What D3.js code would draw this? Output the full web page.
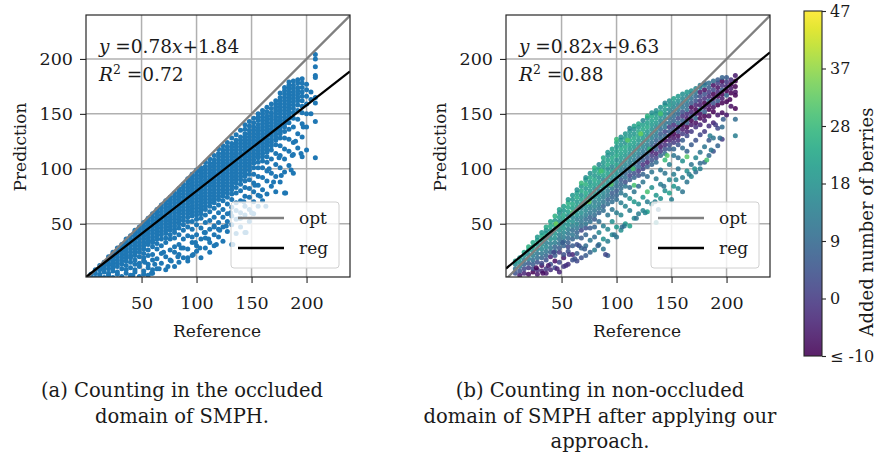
<!DOCTYPE html>
<html>
<head>
<meta charset="utf-8">
<script src="https://cdn.jsdelivr.net/npm/d3@7/dist/d3.min.js"></script>
<style>
  body { margin: 0; background: #fff; }
  text { font-family: "DejaVu Serif", serif; fill: #1a1a1a; }
</style>
</head>
<body>
<svg id="fig" width="878" height="453"></svg>
<script>
// ---- data ----
const axisTicks = [50, 100, 150, 200];

// panel (a): columns [reference, predictions...]
const leftCols = [
  [4, 2, 4],
  [8, 1, 5, 8],
  [12, 2, 4, 8, 10, 12],
  [16, 1, 6, 9, 12, 15],
  [20, 3, 5, 9, 12, 14, 17, 20],
  [24, 1, 7, 10, 13, 16, 19, 22, 24],
  [28, 4, 6, 11, 14, 17, 20, 23, 26, 28],
  [32, 2, 9, 13, 16, 19, 22, 25, 28, 31],
  [36, 5, 8, 12, 16, 19, 22, 25, 28, 31, 34, 36],
  [40, 1, 3, 10, 15, 19, 21, 24, 27, 30, 33, 36, 39],
  [44, 6, 8, 13, 17, 21, 24, 27, 30, 33, 36, 39, 42, 44],
  [48, 2, 11, 14, 20, 24, 27, 30, 33, 36, 39, 42, 45, 47],
  [52, 7, 4, 16, 19, 23, 27, 30, 33, 36, 39, 42, 45, 48, 51],
  [56, 3, 13, 10, 21, 26, 31, 34, 37, 40, 43, 46, 49, 52, 55],
  [60, 5, 8, 17, 22, 29, 33, 35, 38, 41, 44, 47, 50, 53, 56, 59],
  [64, 9, 18, 27, 32, 36, 39, 42, 45, 48, 51, 54, 57, 60, 63],
  [68, 14, 23, 30, 36, 40, 43, 46, 49, 52, 55, 58, 61, 64, 67],
  [72, 8, 20, 33, 37, 41, 44, 47, 50, 53, 56, 59, 62, 65, 68, 71],
  [76, 17, 26, 36, 40, 44, 47, 50, 53, 56, 59, 62, 65, 68, 71, 74],
  [80, 11, 29, 24, 37, 42, 45, 48, 51, 54, 57, 60, 63, 66, 69, 72, 75, 78],
  [84, 22, 31, 15, 40, 46, 50, 53, 56, 59, 62, 65, 68, 71, 74, 77, 80, 82],
  [88, 19, 36, 28, 44, 49, 53, 56, 59, 62, 65, 68, 71, 74, 77, 80, 83, 86],
  [92, 27, 16, 39, 47, 52, 56, 59, 62, 65, 68, 71, 74, 77, 80, 83, 86, 89, 91],
  [96, 33, 21, 45, 38, 52, 57, 60, 63, 66, 69, 72, 75, 78, 81, 84, 87, 90, 93, 95],
  [100, 25, 40, 30, 49, 54, 58, 61, 64, 67, 70, 73, 76, 79, 82, 85, 88, 91, 94, 97, 99],
  [104, 36, 19, 46, 55, 59, 62, 65, 68, 71, 74, 77, 80, 83, 86, 89, 92, 95, 98, 101],
  [108, 28, 42, 51, 37, 58, 63, 66, 69, 72, 75, 78, 81, 84, 87, 90, 93, 96, 99, 102, 106],
  [112, 45, 33, 53, 24, 61, 66, 69, 72, 75, 78, 81, 84, 87, 90, 93, 96, 99, 102, 105, 109],
  [116, 40, 56, 30, 48, 64, 69, 72, 75, 78, 81, 84, 87, 90, 93, 96, 99, 102, 105, 108, 112],
  [120, 51, 38, 60, 45, 67, 72, 75, 78, 81, 84, 87, 90, 93, 96, 99, 102, 105, 108, 111, 114, 118],
  [124, 34, 56, 47, 63, 71, 75, 78, 81, 84, 87, 90, 93, 96, 99, 102, 105, 108, 111, 114, 117, 121],
  [128, 43, 59, 52, 68, 74, 78, 81, 84, 87, 90, 93, 96, 99, 102, 105, 108, 111, 114, 117, 120, 124],
  [132, 31, 49, 65, 57, 72, 77, 81, 84, 87, 90, 93, 96, 99, 102, 105, 108, 111, 114, 117, 120, 123, 128],
  [136, 54, 41, 69, 62, 78, 83, 87, 90, 93, 96, 99, 102, 105, 108, 111, 114, 117, 120, 123, 126, 131],
  [140, 47, 60, 71, 55, 80, 86, 90, 93, 96, 99, 102, 105, 108, 111, 114, 117, 120, 123, 126, 129, 135],
  [144, 42, 66, 58, 75, 83, 89, 93, 96, 99, 102, 105, 108, 111, 114, 117, 120, 123, 126, 129, 132, 136, 140],
  [148, 63, 74, 52, 82, 90, 95, 99, 102, 105, 108, 111, 114, 117, 120, 123, 126, 129, 132, 135, 139, 143],
  [152, 70, 59, 87, 79, 95, 101, 105, 108, 111, 114, 117, 120, 123, 126, 129, 132, 135, 138, 142, 146],
  [156, 66, 85, 76, 93, 101, 106, 110, 113, 116, 119, 122, 125, 128, 131, 134, 137, 140, 144, 147, 150],
  [160, 81, 71, 92, 101, 107, 111, 114, 117, 120, 123, 126, 129, 132, 135, 138, 141, 144, 147, 150, 153],
  [164, 89, 77, 98, 106, 111, 115, 118, 121, 124, 127, 130, 133, 136, 139, 142, 145, 148, 152, 156],
  [168, 84, 96, 109, 117, 121, 124, 127, 130, 133, 136, 139, 142, 145, 148, 151, 155, 159],
  [172, 79, 93, 104, 114, 122, 126, 129, 132, 135, 138, 141, 144, 147, 150, 153, 156, 159, 162],
  [176, 88, 101, 112, 121, 128, 132, 135, 138, 141, 144, 147, 150, 153, 156, 159, 162, 165, 169],
  [180, 78, 97, 118, 109, 128, 134, 138, 141, 144, 147, 150, 153, 156, 159, 162, 165, 168, 171, 174],
  [184, 103, 116, 127, 136, 142, 146, 149, 152, 155, 158, 161, 164, 167, 170, 173, 176, 179],
  [188, 96, 113, 124, 138, 146, 151, 155, 158, 161, 164, 167, 170, 173, 176, 180],
  [192, 119, 132, 145, 153, 158, 162, 165, 168, 171, 174, 178, 181],
  [196, 111, 129, 141, 151, 157, 162, 166, 170, 174, 178, 182],
  [200, 117, 138, 150, 159, 166, 172, 177],
  [204, 150, 163, 170],
  [208, 110, 143, 160, 165, 183, 185, 193, 200, 204]
];
// panel (a): isolated points [reference, prediction]
const leftExtra = [
  [59, 5], [92, 19], [86, 28], [103, 28], [118, 31], [133, 31], [121, 44], [145, 42],
  [181, 78], [177, 94], [186, 99], [195, 114], [163, 66], [170, 88], [158, 75], [139, 55],
  [127, 48], [111, 36], [97, 22], [74, 11], [66, 9], [42, 3], [53, 15], [150, 60],
  [166, 100], [190, 125], [197, 138], [187, 112], [175, 110], [153, 85], [143, 70],
  [131, 60], [116, 47], [107, 42], [99, 33], [83, 20], [77, 16], [70, 24], [62, 13]
];

// panel (b): columns [reference, predictions, added berries]
const rightCols = [
  [8, [5, 9, 13, 16], [4, 10, 16, 22]],
  [12, [3, 7, 11, 15, 19], [-6, 4, 12, 18, 20]],
  [16, [5, 9, 13, 17, 21, 24], [-4, 2, 8, 14, 18, 24]],
  [20, [4, 10, 14, 18, 22, 26, 29], [-8, 0, 6, 14, 16, 20, 26]],
  [24, [6, 9, 13, 17, 21, 25, 29, 33], [-10, 2, 6, 10, 14, 18, 22, 24]],
  [28, [4, 8, 15, 19, 23, 27, 31, 35, 38], [-6, -2, 4, 10, 12, 16, 20, 22, 20]],
  [32, [7, 12, 14, 19, 23, 27, 31, 35, 39, 42], [-4, -8, 2, 8, 12, 16, 18, 22, 24, 20]],
  [36, [9, 5, 17, 21, 25, 29, 33, 37, 41, 44, 47], [0, -6, 4, 8, 12, 16, 14, 18, 22, 18, 24]],
  [40, [8, 13, 20, 24, 28, 32, 36, 40, 44, 48, 52], [-2, 4, -4, 8, 12, 14, 18, 16, 20, 24, 22]],
  [44, [10, 16, 21, 25, 29, 33, 37, 41, 45, 49, 53, 57], [2, -8, 6, 10, 8, 14, 18, 20, 16, 22, 20, 26]],
  [48, [6, 15, 24, 28, 32, 36, 40, 44, 48, 52, 56, 60, 63], [-4, 2, 0, 6, 10, 12, 14, 18, 20, 16, 22, 18, 22]],
  [52, [11, 19, 22, 30, 34, 38, 42, 46, 50, 54, 58, 62, 66], [0, -6, 4, 8, 10, 14, 16, 20, 18, 22, 24, 20, 22]],
  [56, [13, 25, 29, 33, 37, 41, 45, 49, 53, 57, 61, 65, 69, 72], [-2, 4, 2, 6, 10, 12, 14, 18, 20, 16, 22, 24, 26, 20]],
  [60, [17, 22, 30, 36, 40, 44, 48, 52, 56, 60, 64, 68, 72, 76], [4, -4, 6, 8, 12, 10, 14, 18, 16, 20, 22, 24, 20, 20]],
  [64, [23, 16, 31, 38, 42, 46, 50, 54, 58, 62, 66, 70, 74, 78, 81], [6, 2, 4, 10, 8, 12, 16, 14, 18, 20, 22, 20, 24, 22, 18]],
  [68, [28, 19, 37, 44, 48, 52, 56, 60, 64, 68, 72, 76, 80, 84, 87], [8, 4, 6, 2, 10, 12, 14, 18, 16, 20, 22, 18, 24, 20, 28]],
  [72, [30, 21, 40, 46, 50, 54, 58, 62, 66, 70, 74, 78, 82, 86, 90, 92], [10, 6, 8, 4, 12, 10, 14, 16, 18, 20, 22, 24, 20, 26, 22, 18]],
  [76, [35, 24, 46, 52, 56, 60, 64, 68, 72, 76, 80, 84, 88, 92, 96], [12, 8, 6, 10, 8, 12, 14, 16, 18, 16, 20, 22, 20, 24, 18]],
  [80, [26, 38, 47, 54, 58, 62, 66, 70, 74, 78, 82, 86, 90, 94, 98, 101], [14, 10, 8, 6, 10, 12, 16, 14, 18, 20, 18, 22, 24, 20, 22, 26]],
  [84, [42, 31, 52, 60, 64, 68, 72, 76, 80, 84, 88, 92, 96, 100, 104], [16, 12, 10, 8, 12, 14, 16, 18, 14, 20, 22, 18, 24, 22, 16]],
  [88, [36, 48, 27, 62, 66, 70, 74, 78, 82, 86, 90, 94, 98, 102, 106, 110], [18, 14, 12, 10, 8, 12, 14, 16, 18, 20, 16, 22, 24, 20, 20, 24]],
  [92, [21, 45, 34, 58, 68, 72, 76, 80, 84, 88, 92, 96, 100, 104, 108, 112, 115], [6, 16, 14, 12, 10, 8, 12, 14, 16, 18, 20, 22, 18, 24, 22, 18, 20]],
  [96, [52, 40, 63, 70, 74, 78, 82, 86, 90, 94, 98, 102, 106, 110, 114, 118], [18, 16, 12, 10, 8, 6, 12, 14, 16, 18, 20, 16, 22, 24, 20, 22]],
  [100, [47, 60, 38, 72, 76, 80, 84, 88, 92, 96, 100, 104, 108, 112, 116, 120, 124, 127], [20, 14, 12, 10, 8, 6, 10, 14, 16, 18, 20, 22, 18, 24, 22, 20, 24, 28]],
  [104, [58, 44, 69, 78, 82, 86, 90, 94, 98, 102, 106, 110, 114, 118, 122, 126, 129], [16, 18, 14, 12, 10, 8, 6, 12, 14, 16, 18, 20, 22, 24, 20, 20, 18]],
  [108, [50, 66, 76, 84, 88, 92, 96, 100, 104, 108, 112, 116, 120, 124, 128, 132], [20, 16, 14, 12, 4, 10, 8, 12, 16, 18, 20, 22, 24, 18, 22, 20]],
  [112, [62, 48, 73, 83, 90, 94, 98, 102, 106, 110, 114, 118, 122, 126, 130, 134, 137], [14, 22, 18, 10, 6, 2, 8, 12, 14, 16, 18, 20, 22, 24, 20, 20, 16]],
  [116, [55, 70, 85, 79, 92, 96, 100, 104, 108, 112, 116, 120, 124, 128, 132, 136, 139], [16, 20, 30, 12, 8, 4, 10, 12, 14, 16, 18, 20, 22, 24, 20, 18, 22]],
  [120, [68, 59, 84, 94, 98, 102, 106, 110, 114, 118, 122, 126, 130, 134, 138, 141], [18, 14, 10, 4, 0, 8, 6, 10, 14, 16, 18, 20, 22, 24, 20, 24]],
  [124, [74, 62, 88, 95, 100, 104, 108, 112, 116, 120, 124, 128, 132, 136, 140, 144], [20, 16, 12, 8, 2, -2, 6, 10, 12, 16, 18, 20, 22, 24, 22, 16]],
  [128, [61, 79, 70, 93, 102, 106, 110, 114, 118, 122, 126, 130, 134, 138, 142, 146, 148], [22, 30, 14, 10, 6, -4, 4, 8, 12, 14, 16, 18, 20, 24, 22, 20, 26]],
  [132, [83, 68, 97, 104, 108, 112, 116, 120, 124, 128, 132, 136, 140, 144, 148, 151], [18, 16, 12, 8, 4, 0, -6, 6, 10, 14, 16, 18, 20, 22, 24, 18]],
  [136, [51, 76, 91, 106, 110, 114, 118, 122, 126, 130, 134, 138, 142, 146, 150, 153], [16, 20, 14, 10, 2, -4, 6, 4, 8, 12, 14, 16, 20, 22, 20, 18]],
  [140, [86, 73, 99, 112, 116, 120, 124, 128, 132, 136, 140, 144, 148, 152, 156], [14, 18, 12, 8, 0, -6, -2, 10, 6, 10, 14, 16, 18, 22, 18]],
  [144, [80, 96, 108, 114, 118, 122, 126, 130, 134, 138, 142, 146, 150, 154, 158, 160], [18, 12, 28, 10, 4, -2, -8, 8, 2, 12, 12, 16, 18, 20, 22, 16]],
  [148, [90, 78, 104, 118, 122, 126, 130, 134, 138, 142, 146, 150, 154, 158, 162], [16, 22, 14, 6, 2, -4, -10, 6, 0, 10, 10, 14, 16, 20, 18]],
  [152, [95, 84, 112, 118, 124, 128, 132, 136, 140, 144, 148, 152, 156, 160, 164], [14, 20, 12, 8, 0, -6, -10, 4, -2, 8, 10, 12, 16, 18, 22]],
  [156, [82, 100, 110, 122, 126, 130, 134, 138, 142, 146, 150, 154, 158, 162, 166], [16, 12, 10, 4, -2, -8, 2, -6, 10, 2, 8, 12, 14, 18, 20]],
  [160, [92, 107, 119, 126, 132, 136, 140, 144, 148, 152, 156, 160, 164, 168], [14, 18, 10, 6, 0, -6, -10, 6, -2, 4, 12, 12, 16, 18]],
  [164, [98, 88, 116, 130, 134, 138, 142, 146, 150, 154, 158, 162, 166, 170], [18, 12, 8, 2, -4, -10, 6, -6, -2, 10, 10, 14, 16, 20]],
  [168, [104, 93, 122, 134, 140, 144, 148, 152, 156, 160, 164, 168, 171], [12, 16, 6, 0, -6, -10, 4, -4, -10, 6, 10, 14, 18]],
  [172, [110, 97, 126, 138, 142, 146, 150, 154, 158, 162, 166, 170, 173], [16, 10, 4, -2, -8, 8, -6, -10, -4, 4, 8, 12, 16]],
  [176, [100, 115, 131, 140, 146, 150, 154, 158, 162, 166, 170, 174, 176], [14, 12, 2, -4, -10, -8, 10, -6, -2, 2, -6, 12, 14]],
  [180, [120, 106, 134, 144, 148, 152, 156, 160, 164, 168, 172, 176, 178], [12, 8, 0, -6, -10, 6, -4, -10, -2, 4, -8, 14, 10]],
  [184, [112, 126, 139, 148, 154, 158, 162, 166, 170, 174, 178], [10, 6, -2, -8, -10, -6, 8, -4, 0, 6, 10]],
  [188, [128, 116, 142, 152, 156, 160, 164, 168, 172, 176, 180], [12, 4, -4, -10, -8, 4, -6, -10, 2, -8, 10]],
  [192, [121, 137, 149, 158, 162, 166, 170, 174, 178, 181], [8, 2, -6, -10, 6, -10, -4, -8, 0, 6]],
  [196, [138, 127, 151, 160, 164, 168, 172, 176, 180, 183], [10, 0, -8, -10, -6, -10, 6, -2, -10, 8]],
  [200, [149, 161, 167, 171, 175, 179, 183], [-6, -10, 8, -10, -4, 0, 6]],
  [204, [157, 169, 173, 177, 181], [-8, -10, -6, -10, -2]],
  [208, [130, 145, 155, 167, 170, 175, 180, 185], [14, 10, -10, -10, -8, -10, -10, -6]]
];
// panel (b): isolated points [reference, prediction, added berries]
const rightExtra = [
  [186, 117, 12], [176, 105, 10], [160, 79, 12], [182, 108, 30], [166, 95, 14], [154, 90, 16],
  [143, 84, 12], [135, 70, 14], [126, 60, 16], [118, 55, 12], [107, 48, 14], [90, 22, 2],
  [105, 47, 10], [98, 40, 12], [83, 30, 8], [71, 27, 6], [62, 18, 4], [54, 12, -2],
  [46, 9, -4], [38, 12, -6], [33, 5, -8], [27, 10, -10], [43, 24, 2], [57, 22, 0],
  [66, 30, 4], [51, 33, 6], [138, 63, 10], [150, 72, 14], [171, 100, 18], [185, 130, 14],
  [194, 128, 10], [197, 145, 6], [203, 163, -10], [190, 140, 0], [164, 111, 32],
  [146, 112, 32], [130, 118, 28], [115, 100, 30], [95, 86, 32], [75, 70, 34], [60, 60, 32],
  [45, 50, 34], [86, 98, 30], [110, 126, 32], [140, 150, 30], [122, 132, 34]
];

const fits = [
  { slope: 0.78, icpt: 1.84, eq: ["0.78", "+1.84"], r2: "0.72" },
  { slope: 0.82, icpt: 9.63, eq: ["0.82", "+9.63"], r2: "0.88" }
];
const legendNames = ["opt", "reg"];
const cbTicks = [-10, -0.5, 9, 18.5, 28, 37.5, 47];
const cbLabels = ["\u2264 -10", "0", "9", "18", "28", "37", "47"];
const captionA = ["(a) Counting in the occluded", "domain of SMPH."];
const captionB = ["(b) Counting in non-occluded", "domain of SMPH after applying our", "approach."];

// ---- drawing ----
const svg = d3.select("#fig");
svg.append("rect").attr("width", 878).attr("height", 453).attr("fill", "#fff");

const yTop = 15, yBot = 277, W = 264;
const cScale = d3.scaleLinear().domain([-10, 47]).range([0, 1]).clamp(true);

function drawPanel(ox, pts, colorOf, alpha, fit, id) {
  const x = d3.scaleLinear().domain([-0.5, 239.5]).range([ox, ox + W]);
  const y = d3.scaleLinear().domain([1.5, 240]).range([yBot, yTop]);
  const g = svg.append("g");

  svg.append("clipPath").attr("id", id)
    .append("rect").attr("x", ox).attr("y", yTop).attr("width", W).attr("height", yBot - yTop);

  // grid
  g.append("g").selectAll("line").data(axisTicks).join("line")
    .attr("x1", d => x(d)).attr("x2", d => x(d)).attr("y1", yTop).attr("y2", yBot)
    .attr("stroke", "#b0b0b0").attr("stroke-width", 1.5);
  g.append("g").selectAll("line").data(axisTicks).join("line")
    .attr("y1", d => y(d)).attr("y2", d => y(d)).attr("x1", ox).attr("x2", ox + W)
    .attr("stroke", "#b0b0b0").attr("stroke-width", 1.5);

  const inner = g.append("g").attr("clip-path", `url(#${id})`);
  inner.selectAll("circle").data(pts).join("circle")
    .attr("cx", d => x(d.x)).attr("cy", d => y(d.y)).attr("r", 2.5)
    .attr("fill", colorOf).attr("fill-opacity", alpha);

  const dom = x.domain();
  inner.append("line")
    .attr("x1", x(dom[0])).attr("y1", y(dom[0])).attr("x2", x(dom[1])).attr("y2", y(dom[1]))
    .attr("stroke", "#808080").attr("stroke-width", 2.3);
  inner.append("line")
    .attr("x1", x(dom[0])).attr("y1", y(fit.slope * dom[0] + fit.icpt))
    .attr("x2", x(dom[1])).attr("y2", y(fit.slope * dom[1] + fit.icpt))
    .attr("stroke", "#000").attr("stroke-width", 2.3);

  // equation
  const eq = g.append("text").attr("x", ox + 13).attr("y", 53).attr("font-size", 18.5);
  eq.append("tspan").attr("font-style", "italic").text("y");
  eq.append("tspan").text(" =" + fit.eq[0]);
  eq.append("tspan").attr("font-style", "italic").text("x");
  eq.append("tspan").text(fit.eq[1]);
  const r2 = g.append("text").attr("x", ox + 13).attr("y", 81).attr("font-size", 18.5);
  r2.append("tspan").attr("font-style", "italic").text("R");
  r2.append("tspan").attr("font-size", 12.5).attr("dy", -7.5).text("2");
  r2.append("tspan").attr("dy", 7.5).text(" =" + fit.r2);

  // legend
  const lg = g.append("g").attr("transform", `translate(${ox + 145},202)`);
  lg.append("rect").attr("width", 108).attr("height", 66).attr("rx", 3)
    .attr("fill", "#fff").attr("fill-opacity", 0.8).attr("stroke", "#d0d0d0");
  lg.selectAll("line").data(legendNames).join("line")
    .attr("x1", 7).attr("x2", 53).attr("y1", (d, i) => 16 + i * 30).attr("y2", (d, i) => 16 + i * 30)
    .attr("stroke", (d, i) => i ? "#000" : "#808080").attr("stroke-width", 2.3);
  lg.selectAll("text").data(legendNames).join("text")
    .attr("x", 68).attr("y", (d, i) => 22 + i * 30).attr("font-size", 17).text(d => d);

  // frame + axes
  g.append("rect").attr("x", ox).attr("y", yTop).attr("width", W).attr("height", yBot - yTop)
    .attr("fill", "none").attr("stroke", "#262626").attr("stroke-width", 1.2);

  const ax = g.append("g").attr("transform", `translate(0,${yBot})`)
    .call(d3.axisBottom(x).tickValues(axisTicks).tickSize(6).tickPadding(14).tickSizeOuter(0));
  const ay = g.append("g").attr("transform", `translate(${ox},0)`)
    .call(d3.axisLeft(y).tickValues(axisTicks).tickSize(6).tickPadding(7).tickSizeOuter(0));
  [ax, ay].forEach(a => {
    a.select(".domain").remove();
    a.selectAll("line").attr("stroke", "#262626").attr("stroke-width", 1.1);
    a.selectAll("text").attr("font-size", 17.5).attr("font-family", "DejaVu Serif").attr("fill", "#1a1a1a");
  });

  g.append("text").attr("x", ox + 131).attr("y", 337).attr("text-anchor", "middle")
    .attr("font-size", 17).text("Reference");
  g.append("text").attr("transform", `translate(${ox - 60},147) rotate(-90)`)
    .attr("text-anchor", "middle").attr("font-size", 17).text("Prediction");
}

const leftPts = leftCols.flatMap(([x, ...ys]) => ys.map(y => ({ x, y })))
  .concat(leftExtra.map(([x, y]) => ({ x, y })));
const rightPts = rightCols.flatMap(([x, ys, cs]) => ys.map((y, i) => ({ x, y, c: cs[i] })))
  .concat(rightExtra.map(([x, y, c]) => ({ x, y, c })));

drawPanel(86, leftPts, () => "#1f77b4", 1, fits[0], "clipA");
drawPanel(506, rightPts, d => d3.interpolateViridis(cScale(d.c)), 0.85, fits[1], "clipB");

// colorbar
const cbY = d3.scaleLinear().domain([-10, 47]).range([356, 11]);
const grad = svg.append("defs").append("linearGradient").attr("id", "vir")
  .attr("x1", 0).attr("y1", 1).attr("x2", 0).attr("y2", 0);
grad.selectAll("stop").data(d3.range(0, 1.0001, 0.05)).join("stop")
  .attr("offset", d => d).attr("stop-color", d => d3.interpolateViridis(d));
svg.append("rect").attr("x", 804).attr("y", 11).attr("width", 18).attr("height", 345)
  .attr("fill", "url(#vir)").attr("fill-opacity", 0.88)
  .attr("stroke", "#262626").attr("stroke-width", 1.1);
const cax = svg.append("g").attr("transform", "translate(822,0)")
  .call(d3.axisRight(cbY).tickValues(cbTicks).tickFormat((d, i) => cbLabels[i])
    .tickSize(4).tickPadding(4).tickSizeOuter(0));
cax.select(".domain").remove();
cax.selectAll("line").attr("stroke", "#262626").attr("stroke-width", 1.1);
cax.selectAll("text").attr("font-size", 16).attr("font-family", "DejaVu Serif").attr("fill", "#1a1a1a");
svg.append("text").attr("transform", "translate(873,222) rotate(-90)")
  .attr("text-anchor", "middle").attr("font-size", 18).text("Added number of berries");

// captions
const capY = [397, 423, 448];
svg.append("g").selectAll("text").data(captionA).join("text")
  .attr("x", 182).attr("y", (d, i) => capY[i]).attr("text-anchor", "middle")
  .attr("font-size", 19.5).text(d => d);
svg.append("g").selectAll("text").data(captionB).join("text")
  .attr("x", 600).attr("y", (d, i) => capY[i]).attr("text-anchor", "middle")
  .attr("font-size", 19.5).text(d => d);
</script>
</body>
</html>
